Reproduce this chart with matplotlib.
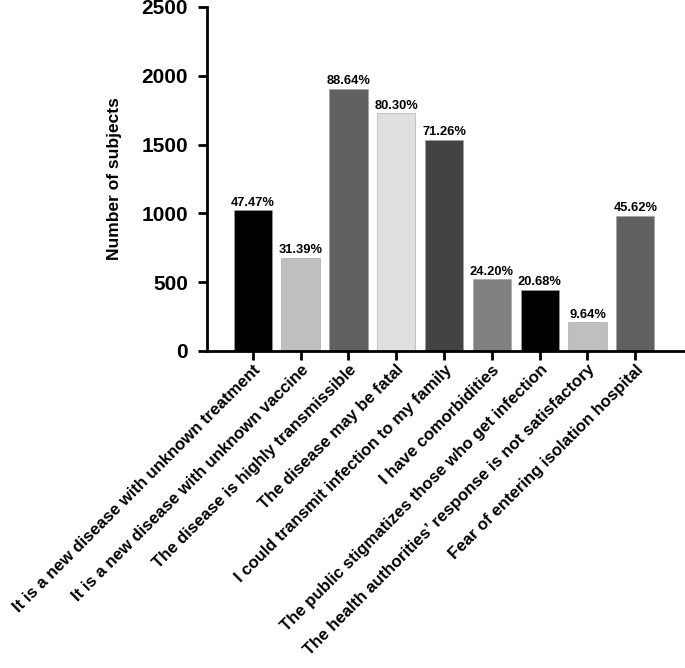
import matplotlib
matplotlib.use('Agg')
import matplotlib.pyplot as plt

plt.rcParams['font.family'] = ['Liberation Sans', 'DejaVu Sans']
plt.rcParams['font.weight'] = 'bold'

reasons = ['It is a new disease with unknown treatment',
           'It is a new disease with unknown vaccine',
           'The disease is highly transmissible',
           'The disease may be fatal',
           'I could transmit infection to my family',
           'I have comorbidities',
           'The public stigmatizes those who get infection',
           'The health authorities\u2019 response is not satisfactory',
           'Fear of entering isolation hospital']
counts = [1021, 675, 1907, 1727, 1533, 520, 445, 207, 981]
percents = ['47.47%', '31.39%', '88.64%', '80.30%', '71.26%',
            '24.20%', '20.68%', '9.64%', '45.62%']
bar_colours = ['#000000', '#bfbfbf', '#606060', '#e0e0e0', '#434343',
               '#808080', '#000000', '#bfbfbf', '#606060']

fig = plt.figure(figsize=(6.85, 6.68), dpi=100)
ax = fig.add_axes([0.302, 0.4746, 0.698, 0.515])

x = list(range(len(reasons)))
bars = ax.bar(x, counts, width=0.8, color=bar_colours,
              edgecolor='#a0a0a0', linewidth=0.4)

# percentage labels above the bars
for b, p in zip(bars, percents):
    ax.text(b.get_x() + b.get_width() / 2, b.get_height() + 12, p,
            ha='center', va='bottom', fontsize=9.3, fontweight='bold')

ax.set_xlim(-0.96, 9.04)
ax.set_ylim(0, 2500)
ax.set_yticks([0, 500, 1000, 1500, 2000, 2500])
ax.set_xticks(x)
ax.set_xticklabels(reasons, rotation=45, ha='right', rotation_mode='anchor',
                   fontsize=12.1, fontweight='bold')
ax.set_ylabel('Number of subjects', fontsize=12.5, fontweight='bold', labelpad=14)

for lab in ax.get_yticklabels():
    lab.set_fontsize(15)
    lab.set_fontweight('bold')

ax.spines['top'].set_visible(False)
ax.spines['right'].set_visible(False)
ax.spines['left'].set_linewidth(2)
ax.spines['bottom'].set_linewidth(2)
ax.tick_params(axis='both', direction='out', length=6.5, width=2)
ax.tick_params(axis='x', pad=1.5)
ax.tick_params(axis='y', pad=7)

fig.savefig('out.png', dpi=100)
